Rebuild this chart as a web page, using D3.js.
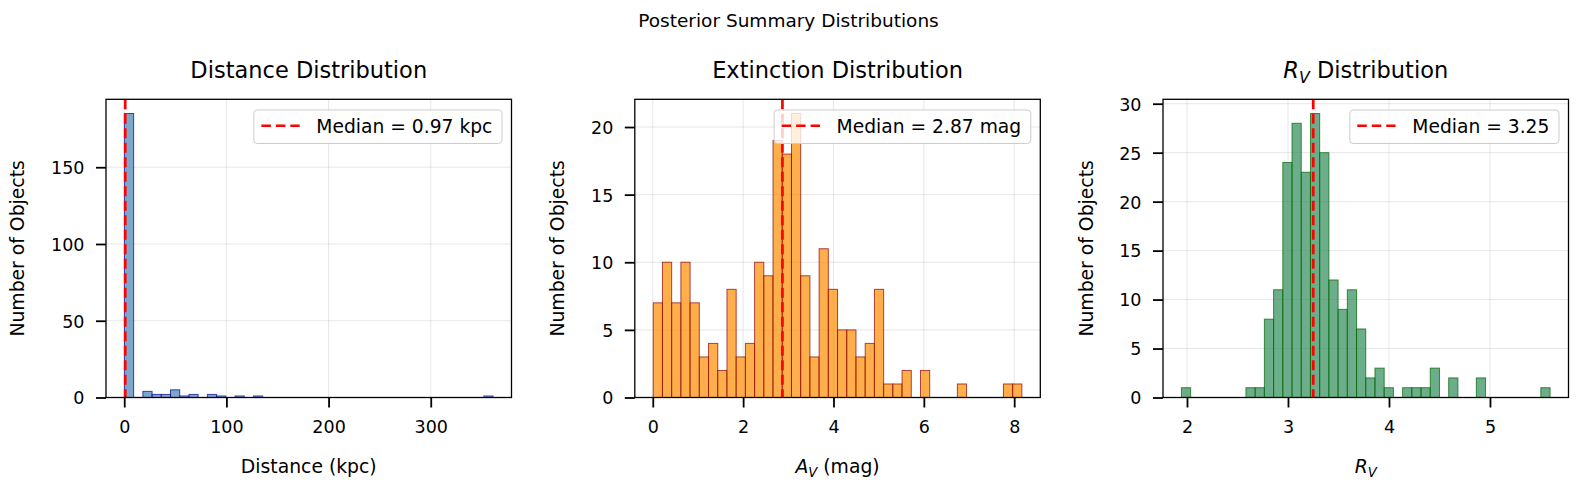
<!DOCTYPE html>
<html>
<head>
<meta charset="utf-8">
<script src="https://cdn.jsdelivr.net/npm/d3@7"></script>
<style>
  html, body { margin: 0; padding: 0; background: #fff; }
  svg text { font-family: "DejaVu Sans", sans-serif; fill: #000; }
</style>
</head>
<body>
<svg id="chart" width="1577" height="488"></svg>
<script>
// ---------------- DATA ----------------
const suptitle = "Posterior Summary Distributions";

const distanceCounts = [185, 0, 4, 2, 2, 5, 1, 2, 0, 2, 1, 0, 1, 0, 1, 0, 0, 0, 0, 0,
                        0, 0, 0, 0, 0, 0, 0, 0, 0, 0, 0, 0, 0, 0, 0, 0, 0, 0, 0, 1];
const distanceRange = [0.2, 361];
const distanceMedian = 0.97;
const distanceXTicks = [0, 100, 200, 300];
const distanceYTicks = [0, 50, 100, 150];

const extinctionCounts = [7, 10, 7, 10, 7, 3, 4, 2, 8, 3, 4, 10, 9, 19, 18, 21, 9, 3, 11, 8,
                          5, 5, 3, 4, 8, 1, 1, 2, 0, 2, 0, 0, 0, 1, 0, 0, 0, 0, 1, 1];
const extinctionRange = [0.01, 8.17];
const extinctionMedian = 2.87;
const extinctionXTicks = [0, 2, 4, 6, 8];
const extinctionYTicks = [0, 5, 10, 15, 20];

const rvCounts = [1, 0, 0, 0, 0, 0, 0, 1, 1, 8, 11, 24, 28, 23, 29, 25, 12, 9, 11, 7,
                  2, 3, 1, 0, 1, 1, 1, 3, 0, 2, 0, 0, 2, 0, 0, 0, 0, 0, 0, 1];
const rvRange = [1.945, 5.595];
const rvMedian = 3.25;
const rvXTicks = [2, 3, 4, 5];
const rvYTicks = [0, 5, 10, 15, 20, 25, 30];

const legendLabels = ["Median = 0.97 kpc", "Median = 2.87 mag", "Median = 3.25"];

// ---------------- LAYOUT ----------------
const svg = d3.select("#chart");
const FS_TICK = 17.5, FS_LABEL = 18.8, FS_TITLE = 22.5, FS_SUP = 18.5, FS_LEG = 18.7;
const axTop = 99.3, axBottom = 397.5, axW = 405.5;
const axLefts = [106, 634.8, 1163];

svg.append("text")
  .attr("x", 788.5).attr("y", 27)
  .attr("text-anchor", "middle")
  .style("font-size", FS_SUP + "px")
  .text(suptitle);

function richText(sel, parts, fs) {
  parts.forEach(p => {
    const t = sel.append("tspan").text(p.t);
    if (p.i) t.style("font-style", "italic");
    if (p.sub) { t.style("font-size", (fs * 0.7) + "px").attr("dy", fs * 0.22); }
    if (p.after) t.attr("dy", -fs * 0.22);
  });
}

const panels = [
  { counts: distanceCounts, range: distanceRange, median: distanceMedian, xt: distanceXTicks, yt: distanceYTicks,
    fill: "steelblue", stroke: "darkblue", title: [{t: "Distance Distribution"}],
    xlabel: [{t: "Distance (kpc)"}], legend: legendLabels[0] },
  { counts: extinctionCounts, range: extinctionRange, median: extinctionMedian, xt: extinctionXTicks, yt: extinctionYTicks,
    fill: "darkorange", stroke: "darkred", title: [{t: "Extinction Distribution"}],
    xlabel: [{t: "A", i: true}, {t: "V", i: true, sub: true}, {t: " (mag)", after: true}], legend: legendLabels[1] },
  { counts: rvCounts, range: rvRange, median: rvMedian, xt: rvXTicks, yt: rvYTicks,
    fill: "seagreen", stroke: "darkgreen", title: [{t: "R", i: true}, {t: "V", i: true, sub: true}, {t: " Distribution", after: true}],
    xlabel: [{t: "R", i: true}, {t: "V", i: true, sub: true}], legend: legendLabels[2] }
];

panels.forEach((p, k) => {
  const x0 = axLefts[k];
  const n = p.counts.length;
  const span = p.range[1] - p.range[0];
  const bw = span / n;
  const bins = p.counts.map((c, i) => ({ x0: p.range[0] + i * bw, x1: p.range[0] + (i + 1) * bw, c }));
  const ymax = d3.max(p.counts) * 1.05;

  const x = d3.scaleLinear().domain([p.range[0] - 0.05 * span, p.range[1] + 0.05 * span]).range([x0, x0 + axW]);
  const y = d3.scaleLinear().domain([0, ymax]).range([axBottom, axTop]);

  const g = svg.append("g");

  // grid
  const clip = "clip" + k;
  svg.append("clipPath").attr("id", clip).append("rect")
    .attr("x", x0).attr("y", axTop).attr("width", axW).attr("height", axBottom - axTop);
  const grid = g.append("g").attr("clip-path", `url(#${clip})`);
  grid.selectAll("line.gx").data(p.xt).join("line")
    .attr("x1", d => x(d)).attr("x2", d => x(d)).attr("y1", axTop).attr("y2", axBottom)
    .attr("stroke", "#b0b0b0").attr("stroke-opacity", 0.3).attr("stroke-width", 1);
  grid.selectAll("line.gy").data(p.yt).join("line")
    .attr("x1", x0).attr("x2", x0 + axW).attr("y1", d => y(d)).attr("y2", d => y(d))
    .attr("stroke", "#b0b0b0").attr("stroke-opacity", 0.3).attr("stroke-width", 1);

  // bars
  g.append("g").selectAll("rect").data(bins.filter(b => b.c > 0)).join("rect")
    .attr("x", d => x(d.x0)).attr("width", d => x(d.x1) - x(d.x0))
    .attr("y", d => y(d.c)).attr("height", d => y(0) - y(d.c))
    .attr("fill", p.fill).attr("fill-opacity", 0.7)
    .attr("stroke", p.stroke).attr("stroke-opacity", 0.7).attr("stroke-width", 1);

  // median line
  g.append("line")
    .attr("x1", x(p.median)).attr("x2", x(p.median)).attr("y1", axTop).attr("y2", axBottom)
    .attr("stroke", "red").attr("stroke-width", 2.7).attr("stroke-dasharray", "10,4.5");

  // spines
  g.append("rect").attr("x", x0).attr("y", axTop).attr("width", axW).attr("height", axBottom - axTop)
    .attr("fill", "none").attr("stroke", "#000").attr("stroke-width", 1.3);

  // x axis
  const xa = d3.axisBottom(x).tickValues(p.xt).tickSize(10).tickPadding(0).tickFormat(d3.format("d"));
  const xg = g.append("g").attr("transform", `translate(0,${axBottom})`).call(xa);
  xg.select(".domain").remove();
  xg.selectAll(".tick line").attr("stroke", "#000").attr("stroke-width", 1.8);
  xg.selectAll(".tick text").attr("y", 35.5).attr("dy", null)
    .style("font-size", FS_TICK + "px").style("font-family", "DejaVu Sans").attr("fill", "#000");

  // y axis
  const ya = d3.axisLeft(y).tickValues(p.yt).tickSize(10).tickPadding(0).tickFormat(d3.format("d"));
  const yg = g.append("g").attr("transform", `translate(${x0},0)`).call(ya);
  yg.select(".domain").remove();
  yg.selectAll(".tick line").attr("stroke", "#000").attr("stroke-width", 1.8);
  yg.selectAll(".tick text").attr("x", -21.5).attr("dy", null).attr("y", FS_TICK * 0.3645)
    .style("font-size", FS_TICK + "px").style("font-family", "DejaVu Sans").attr("fill", "#000");
  let maxW = 0;
  yg.selectAll(".tick text").each(function() { maxW = Math.max(maxW, this.getComputedTextLength()); });

  // y label
  const ylx = x0 - 21.5 - maxW - 26.7;
  svg.append("text")
    .attr("transform", `translate(${ylx},${(axTop + axBottom) / 2}) rotate(-90)`)
    .attr("text-anchor", "middle")
    .style("font-size", FS_LABEL + "px")
    .text("Number of Objects");

  // x label
  const xl = svg.append("text")
    .attr("x", x0 + axW / 2).attr("y", 473)
    .attr("text-anchor", "middle")
    .style("font-size", FS_LABEL + "px");
  richText(xl, p.xlabel, FS_LABEL);

  // title
  const tt = svg.append("text")
    .attr("x", x0 + axW / 2).attr("y", 78)
    .attr("text-anchor", "middle")
    .style("font-size", FS_TITLE + "px");
  richText(tt, p.title, FS_TITLE);

  // legend
  const lg = g.append("g");
  const lt = lg.append("text").style("font-size", FS_LEG + "px").text(p.legend);
  const tw = lt.node().getComputedTextLength();
  const boxW = 7.5 + 38.3 + 16.7 + tw + 9.6;
  const boxR = x0 + axW - 9.5, boxT = axTop + 10.7, boxH = 33.5;
  const boxL = boxR - boxW;
  lg.insert("rect", "text")
    .attr("x", boxL).attr("y", boxT).attr("width", boxW).attr("height", boxH)
    .attr("rx", 3.5).attr("ry", 3.5)
    .attr("fill", "#fff").attr("fill-opacity", 0.8)
    .attr("stroke", "#cccccc").attr("stroke-width", 1);
  lg.insert("line", "text")
    .attr("x1", boxL + 7.5).attr("x2", boxL + 7.5 + 38.3)
    .attr("y1", boxT + boxH / 2 - 1).attr("y2", boxT + boxH / 2 - 1)
    .attr("stroke", "red").attr("stroke-width", 2.7).attr("stroke-dasharray", "9.5,5");
  lt.attr("x", boxL + 7.5 + 38.3 + 16.7).attr("y", boxT + boxH / 2 + FS_LEG * 0.3645 - 0.5);
});
</script>
</body>
</html>
